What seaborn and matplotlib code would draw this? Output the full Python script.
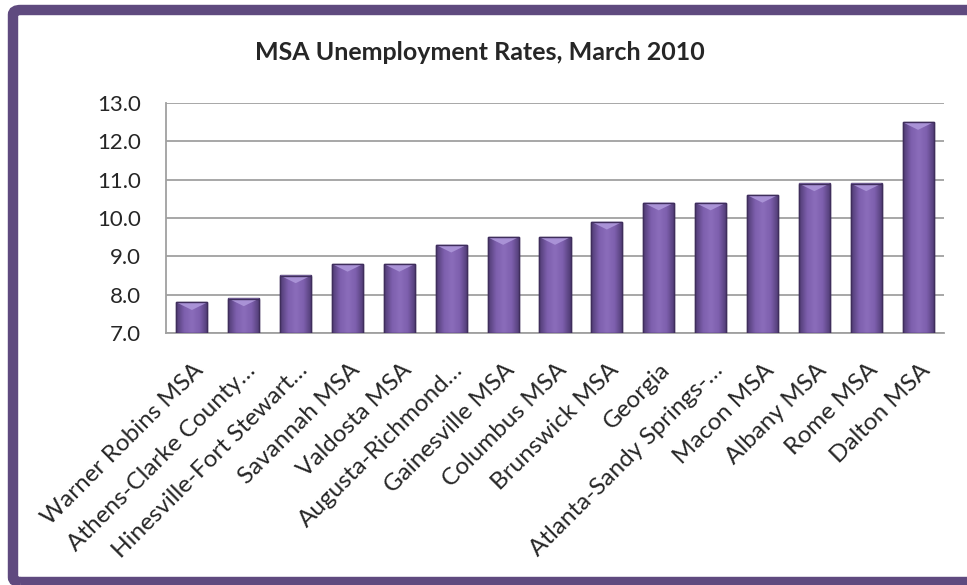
import matplotlib
matplotlib.use("Agg")
import matplotlib.pyplot as plt
import matplotlib.transforms as mtransforms
import seaborn as sns
import pandas as pd
import numpy as np
from matplotlib.patches import FancyBboxPatch, Polygon, Rectangle
from matplotlib.colors import LinearSegmentedColormap

categories = ["Warner Robins MSA", "Athens-Clarke County\u2026", "Hinesville-Fort Stewart\u2026",
              "Savannah MSA", "Valdosta MSA", "Augusta-Richmond\u2026", "Gainesville MSA",
              "Columbus MSA", "Brunswick MSA", "Georgia", "Atlanta-Sandy Springs-\u2026",
              "Macon MSA", "Albany MSA", "Rome MSA", "Dalton MSA"]
rates = [7.8, 7.9, 8.5, 8.8, 8.8, 9.3, 9.5, 9.5, 9.9, 10.4, 10.4, 10.6, 10.9, 10.9, 12.5]
y_ticks = [7.0, 8.0, 9.0, 10.0, 11.0, 12.0, 13.0]
title = "MSA Unemployment Rates, March 2010"

sns.set_theme(style="white")
plt.rcParams['font.family'] = ['Lato', 'DejaVu Sans']

df = pd.DataFrame({"area": categories, "rate": rates})

fig = plt.figure(figsize=(9.67, 5.85), dpi=100)
ax = fig.add_axes([166/967, 1-333/585, (944-166)/967, (333-103)/585])

sns.barplot(data=df, x="area", y="rate", color="#7b5ea7", width=0.6,
            saturation=1, ax=ax, edgecolor="#4a3868", linewidth=1.0, zorder=3)

ymin, ymax = 7.0, 13.0
ax.set_ylim(ymin, ymax)
ax.set_yticks(y_ticks)
ax.set_yticklabels([f"{v:.1f}" for v in y_ticks], fontsize=16)
ax.yaxis.grid(True, color="#a0a0a0", linewidth=1.3, zorder=0)
ax.set_axisbelow(True)
ax.set_xlabel("")
ax.set_ylabel("")
ax.tick_params(axis="y", length=0, pad=18)
ax.tick_params(axis="x", length=0, pad=19)
for s in ["top", "right"]:
    ax.spines[s].set_visible(False)
for s in ["left", "bottom"]:
    ax.spines[s].set_color("#a0a0a0")
    ax.spines[s].set_linewidth(1.3)

ax.set_xticks(range(len(categories)))
ax.set_xticklabels(categories, rotation=45, ha="right", va="top",
                   rotation_mode="anchor", fontsize=17.5)
shift = mtransforms.ScaledTranslation(1/100, 0, fig.dpi_scale_trans)
for lab in ax.get_xticklabels():
    lab.set_transform(lab.get_transform() + shift)

# bevel / gradient styling derived from the drawn bars
cmap = LinearSegmentedColormap.from_list("bev", ["#4f3b73", "#7d5fad", "#8b6dbb", "#7d5fad", "#4f3b73"])
grad = np.linspace(0, 1, 64).reshape(1, -1)
bars = list(ax.patches)
for p in bars:
    x0, w = p.get_x(), p.get_width()
    top = p.get_y() + p.get_height()
    y0 = max(p.get_y(), ymin)
    h = top - y0
    clip = Rectangle((x0, y0), w, h, transform=ax.transData)
    im = ax.imshow(grad, extent=[x0, x0 + w, y0, top], aspect="auto", cmap=cmap, zorder=3.5)
    im.set_clip_path(clip)
    bh = 0.2
    ax.add_patch(Polygon([[x0, top], [x0 + w, top], [x0 + w / 2, top - bh]],
                         closed=True, facecolor="#a992d6", edgecolor="none", zorder=3.6))
    ax.add_patch(Rectangle((x0, y0), w, h, fill=False, edgecolor="#3f2e5c",
                           linewidth=1.0, zorder=3.7))
ax.set_xlim(-0.5, len(categories) - 0.5)

fig.text(480/967, 1-53/585, title, ha="center", va="center", fontsize=18, fontweight="bold")

border = FancyBboxPatch((13/967, 3/585), (990-13)/967, (575-3)/585,
                        boxstyle="round,pad=0,rounding_size=0.008",
                        transform=fig.transFigure, fill=False, edgecolor="#5f4a7f",
                        linewidth=7.5, zorder=10)
fig.patches.append(border)

fig.savefig("out.png", dpi=100)
